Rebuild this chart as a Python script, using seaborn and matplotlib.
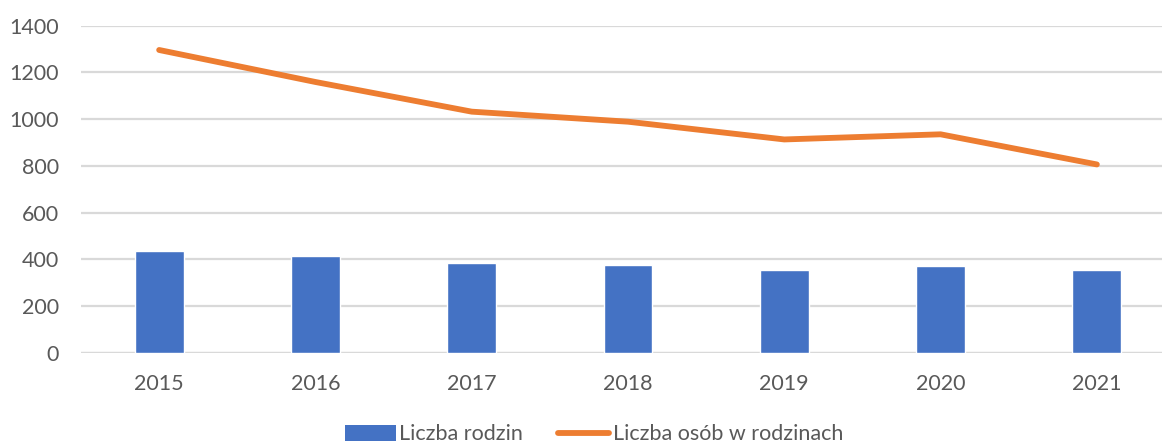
import matplotlib
matplotlib.use("Agg")
import matplotlib.pyplot as plt
import seaborn as sns
import pandas as pd
import numpy as np
from matplotlib.patches import Patch
from matplotlib.lines import Line2D

years = ["2015", "2016", "2017", "2018", "2019", "2020", "2021"]
liczba_rodzin = [437, 416, 384, 377, 353, 370, 353]
liczba_osob = [1296, 1159, 1032, 989, 913, 935, 806]
y_ticks = [0, 200, 400, 600, 800, 1000, 1200, 1400]

sns.set_theme(style="white")
plt.rcParams["font.family"] = ["Lato", "DejaVu Sans"]

TEXT = "#595959"
BLUE = "#4472C4"
ORANGE = "#ED7D31"
GRID = "#D9D9D9"

fig = plt.figure(figsize=(11.62, 4.46), dpi=100)
ax = fig.add_axes([81/1162, 93.3/446, 1094/1162, 327/446])

df = pd.DataFrame({"rok": years, "rodziny": liczba_rodzin, "osoby": liczba_osob})

sns.barplot(data=df, x="rok", y="rodziny", color=BLUE, width=0.313, ax=ax,
            saturation=1, zorder=3)
sns.lineplot(x=np.arange(len(years)), y=liczba_osob, color=ORANGE, linewidth=4.2,
             ax=ax, zorder=4, solid_capstyle="round")

ax.set_xlim(-0.5, 6.5)
ax.set_ylim(0, 1400)
ax.set_yticks(y_ticks)
ax.set_yticklabels([str(t) for t in y_ticks])
ax.yaxis.grid(True, color=GRID, linewidth=1.6, zorder=0)
ax.set_axisbelow(True)
for s in ax.spines.values():
    s.set_visible(False)
ax.set_xlabel("")
ax.set_ylabel("")
ax.tick_params(axis="both", length=0, labelsize=15.5, colors=TEXT)
ax.tick_params(axis="y", pad=16)
ax.tick_params(axis="x", pad=15)
ax.axhline(0, color=GRID, linewidth=1.6, zorder=2)

handles = [Patch(facecolor=BLUE, edgecolor="none"),
           Line2D([0], [0], color=ORANGE, linewidth=4.2, solid_capstyle="round")]
leg = fig.legend(handles, ["Liczba rodzin", "Liczba osób w rodzinach"],
                 loc="center", bbox_to_anchor=(0.511, 0.026), ncol=2, frameon=False,
                 fontsize=15.5, handlelength=2.4, handleheight=0.8,
                 handletextpad=0.15, columnspacing=1.6, labelcolor=TEXT)

fig.savefig("out.png", dpi=100)
